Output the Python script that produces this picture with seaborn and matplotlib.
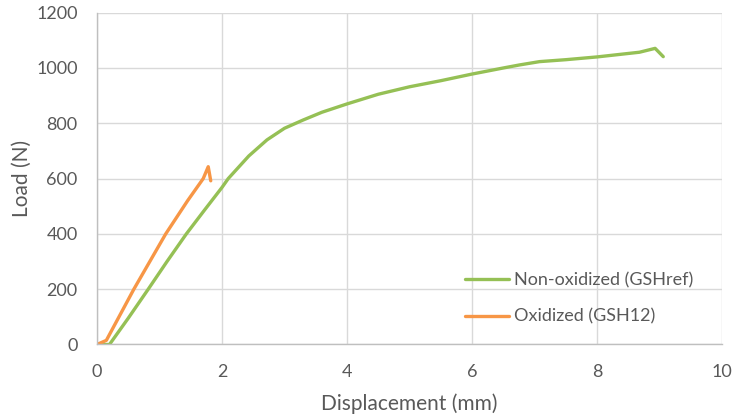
import matplotlib
matplotlib.use("Agg")
import matplotlib.pyplot as plt
import seaborn as sns
import pandas as pd

# Data
green_x = [0, 0.2, 0.5, 0.82, 1.12, 1.43, 1.72, 2.0, 2.1, 2.43, 2.72, 3.0, 3.3, 3.6, 4.0, 4.5, 5.0, 5.5, 6.0, 6.5, 6.76, 7.08, 7.5, 8.0, 8.68, 8.93, 9.06]
green_y = [0, 0, 95, 200, 300, 400, 486, 568, 600, 682, 740, 782, 812, 840, 870, 905, 932, 954, 978, 1000, 1011, 1023, 1030, 1040, 1057, 1071, 1041]
orange_x = [0, 0.15, 0.59, 1.10, 1.45, 1.70, 1.78, 1.82]
orange_y = [0, 15, 200, 400, 520, 600, 643, 592]
series_names = ["Non-oxidized (GSHref)", "Oxidized (GSH12)"]
x_ticks = [0, 2, 4, 6, 8, 10]
y_ticks = [0, 200, 400, 600, 800, 1000, 1200]

df = pd.concat([
    pd.DataFrame({"x": green_x, "y": green_y, "s": series_names[0]}),
    pd.DataFrame({"x": orange_x, "y": orange_y, "s": series_names[1]}),
], ignore_index=True)

sns.set_theme(style="white")
plt.rcParams['font.family'] = ['Lato', 'DejaVu Sans']

fig = plt.figure(figsize=(7.33, 4.16), dpi=100)
ax = fig.add_axes([0.1323, 0.1719, 0.985 - 0.1323, 0.9695 - 0.1719])

sns.lineplot(data=df, x="x", y="y", hue="s", sort=False, estimator=None,
             palette={series_names[0]: "#95c055", series_names[1]: "#f79646"},
             linewidth=2.4, ax=ax)

ax.set_xlim(0, 10)
ax.set_ylim(0, 1200)
ax.set_xticks(x_ticks)
ax.set_yticks(y_ticks)
ax.grid(True, color="#d9d9d9", linewidth=1.0)
ax.set_axisbelow(True)
for s in ["top", "right"]:
    ax.spines[s].set_visible(False)
for s in ["left", "bottom"]:
    ax.spines[s].set_color("#bfbfbf")
    ax.spines[s].set_linewidth(1.0)
ax.tick_params(axis="x", length=0, labelsize=13, colors="#595959", pad=14)
ax.tick_params(axis="y", length=0, labelsize=13, colors="#595959", pad=14)
ax.set_xlabel("Displacement (mm)", fontsize=15, color="#595959", labelpad=10)
ax.set_ylabel("Load (N)", fontsize=15, color="#595959", labelpad=3)

leg = ax.legend(frameon=False, loc="lower right", bbox_to_anchor=(0.98, 0.01),
                fontsize=13, labelspacing=1.15, handlelength=2.4, handletextpad=0.3)
for t in leg.get_texts():
    t.set_color("#595959")

fig.savefig("out.png", dpi=100)
